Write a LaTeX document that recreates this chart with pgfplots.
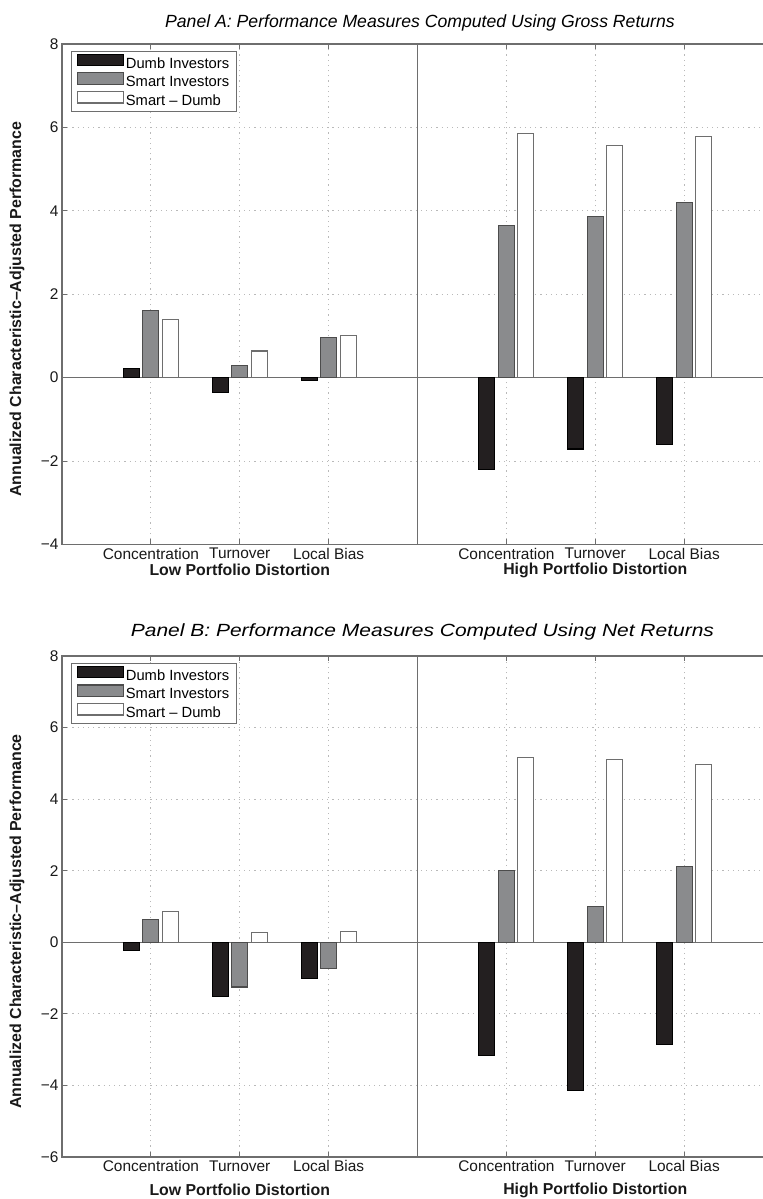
\documentclass[border=0pt]{standalone}
\usepackage{pgfplots}
\pgfplotsset{compat=1.18}
\usepackage{fontspec}
\setmainfont{Liberation Sans}
\newfontfamily\widefont{Liberation Sans}[FakeStretch=1.19]
\definecolor{dumb}{HTML}{231F20}
\definecolor{smart}{HTML}{8A8B8D}
\definecolor{axisgray}{HTML}{6E6E6E}
\tikzset{
  zeroline/.style={axisgray, line width=1.3bp},
  midline/.style={axisgray, line width=1.4bp},
  grouplab/.style={font=\bfseries\fontsize{15.9}{18}\selectfont, text=black!90},
}
\pgfplotsset{
  barleg/.style={legend image code/.code={\draw[##1,line width=1.2bp] (0bp,-1.5bp) rectangle (46bp,10bp);}},
  dumbbar/.style={fill=dumb, draw=black, line width=1.1bp, bar shift=-19.5bp, barleg},
  smartbar/.style={fill=smart, draw=black!70, line width=1.1bp, bar shift=0bp, barleg},
  diffbar/.style={fill=white, draw=axisgray, line width=1.1bp, bar shift=19.5bp, barleg},
  common/.style={
    anchor=south west, width=711bp, scale only axis, clip=false,
    xmin=0, xmax=8, ybar, bar width=16bp,
    xtick={1,2,3,4,5,6,7},
    xticklabels={Concentration,Turnover,Local Bias,,Concentration,Turnover,Local Bias},
    tick align=inside, major tick length=5bp,
    every tick/.style={axisgray, line width=1.1bp},
    axis line style={axisgray, line width=1.4bp},
    grid=major,
    major grid style={gray!55, line width=1.1bp, dash pattern=on 1.2bp off 4bp},
    tick label style={font=\fontsize{15.5}{18}\selectfont, text=black!90},
    ylabel={\bfseries Annualized Characteristic–Adjusted Performance},
    ylabel style={at={(axis description cs:-0.0633,0.47)}, anchor=center, font=\fontsize{16}{18}\selectfont, text=black!90},
    legend style={at={(axis description cs:0,1)}, anchor=north west, xshift=8.5bp, yshift=-7bp,
      draw=axisgray, line width=1.4bp, font=\fontsize{14.8}{17}\selectfont,
      inner xsep=6bp, inner ysep=2bp,
      nodes={inner sep=1.5bp, text height=10.5bp, text depth=2.5bp}},
    legend cell align=left,
    title style={font=\itshape\fontsize{17.7}{21}\selectfont, anchor=base},
  },
}
\begin{document}
\begin{tikzpicture}
\path[use as bounding box, clip] (0,0) rectangle (763bp,1199bp);
% Panel A
\begin{axis}[common, at={(62bp,654.5bp)}, height=500.5bp,
  ymin=-4, ymax=8, ytick={-4,-2,0,2,4,6,8},
  yticklabels={−4,−2,0,2,4,6,8},
  title={Panel A: Performance Measures Computed Using Gross Returns},
  title style={at={(axis description cs:0.5035,1)}, yshift=10.7bp}]
\draw[zeroline] (axis cs:0,0) -- (axis cs:8,0);
\draw[midline] (axis cs:4,-4) -- (axis cs:4,8);
\addplot[dumbbar] coordinates {(1,0.22) (2,-0.35) (3,-0.06) (5,-2.20) (6,-1.71) (7,-1.60)};
\addplot[smartbar] coordinates {(1,1.60) (2,0.29) (3,0.96) (5,3.64) (6,3.87) (7,4.19)};
\addplot[diffbar] coordinates {(1,1.39) (2,0.64) (3,1.02) (5,5.85) (6,5.57) (7,5.78)};
\legend{Dumb Investors, Smart Investors, Smart – Dumb}
\node[grouplab] at (axis cs:2,-4) [yshift=-25.5bp] {Low Portfolio Distortion};
\node[grouplab] at (axis cs:6,-4) [yshift=-25.5bp] {High Portfolio Distortion};
\end{axis}
% Panel B
\begin{axis}[common, at={(62bp,42bp)}, height=501bp,
  ymin=-6, ymax=8, ytick={-6,-4,-2,0,2,4,6,8},
  yticklabels={−6,−4,−2,0,2,4,6,8},
  title={\widefont\itshape Panel B: Performance Measures Computed Using Net Returns},
  title style={at={(axis description cs:0.507,1)}, yshift=13.3bp}]
\draw[zeroline] (axis cs:0,0) -- (axis cs:8,0);
\draw[midline] (axis cs:4,-6) -- (axis cs:4,8);
\addplot[dumbbar] coordinates {(1,-0.23) (2,-1.51) (3,-1.02) (5,-3.17) (6,-4.14) (7,-2.85)};
\addplot[smartbar] coordinates {(1,0.64) (2,-1.25) (3,-0.74) (5,2.00) (6,0.99) (7,2.11)};
\addplot[diffbar] coordinates {(1,0.87) (2,0.28) (3,0.30) (5,5.17) (6,5.12) (7,4.97)};
\legend{Dumb Investors, Smart Investors, Smart – Dumb}
\node[grouplab] at (axis cs:2,-6) [yshift=-33bp] {Low Portfolio Distortion};
\node[grouplab] at (axis cs:6,-6) [yshift=-33bp] {High Portfolio Distortion};
\end{axis}
\end{tikzpicture}
\end{document}
